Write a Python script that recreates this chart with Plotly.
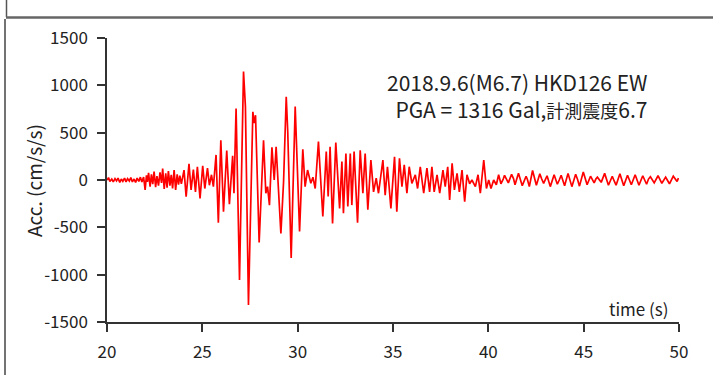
import plotly.graph_objects as go

# ---- data: turning points of the accelerogram (time in s, acceleration in cm/s/s) ----
time_s = [
    20.00, 20.08, 20.15, 20.25, 20.33, 20.42, 20.50, 20.58, 20.67, 20.75, 20.83, 20.92,
    21.00, 21.08, 21.17, 21.25, 21.33, 21.42, 21.50, 21.58, 21.67, 21.75, 21.83,
    21.92, 22.00, 22.07, 22.12, 22.18, 22.26, 22.33, 22.40, 22.47, 22.55, 22.62, 22.70,
    22.78, 22.86, 22.92, 23.00, 23.08, 23.15, 23.22, 23.30, 23.37, 23.44, 23.52, 23.60,
    23.68, 23.75, 23.82, 23.90, 23.97,
    24.04, 24.15, 24.30, 24.41, 24.53, 24.64, 24.74, 24.88, 25.02, 25.13, 25.27, 25.37,
    25.48, 25.58, 25.72, 25.84, 25.97, 26.11, 26.28, 26.42, 26.59, 26.66, 26.77, 26.95,
    27.16, 27.26, 27.42, 27.65, 27.72, 27.79, 27.98, 28.21, 28.33, 28.42, 28.52, 28.65,
    28.77, 28.87, 29.12, 29.26, 29.40, 29.48, 29.66, 29.87, 30.10, 30.27,
    30.39, 30.52, 30.69, 30.80, 30.92, 31.09, 31.32, 31.50, 31.60, 31.70, 31.83, 32.00,
    32.20, 32.32, 32.40, 32.53, 32.63, 32.76, 32.84, 32.96, 33.14, 33.28, 33.42, 33.54,
    33.68, 33.84, 33.98, 34.12, 34.24, 34.47, 34.59, 34.71, 34.89, 35.08, 35.20, 35.34,
    35.47, 35.59, 35.73, 35.85, 35.99, 36.17, 36.29, 36.43, 36.61, 36.78, 36.92, 37.04,
    37.16, 37.31, 37.45, 37.62, 37.74, 37.87, 37.97, 38.10, 38.22, 38.36, 38.48, 38.62,
    38.76, 38.88, 39.02, 39.14, 39.32, 39.46, 39.58, 39.76, 39.90, 40.02, 40.14, 40.28,
    40.42, 40.54,
    40.66, 40.78, 40.85, 41.05, 41.22, 41.32, 41.40, 41.58, 41.78, 41.98, 42.05, 42.15,
    42.32, 42.52, 42.70, 42.80, 42.90, 43.08, 43.25, 43.45, 43.62, 43.72, 43.82, 44.00,
    44.18, 44.38, 44.58, 44.68, 44.78, 44.98, 45.18, 45.36, 45.55, 45.64, 45.72, 45.92,
    46.10, 46.30, 46.50, 46.60, 46.70, 46.90, 47.10, 47.30, 47.40, 47.50, 47.70, 47.90,
    48.10, 48.30, 48.40, 48.50, 48.70, 48.90, 49.10, 49.30, 49.40, 49.50, 49.70, 49.90,
    49.97,
]
acc_gal = [
    0, 25, -15, 10, -20, 15, -10, 20, -25, 10, -15, 20,
    -20, 15, -10, 25, -20, 10, -25, 20, -15, 30, -20,
    30, -105, 50, -20, 75, -70, 60, -45, 90, -75, 40, -60,
    80, -30, 120, -95, 70, -80, 95, -60, 55, -90, 105, -105,
    60, -50, 45, -40, 30,
    105, -175, 170, -105, 110, -125, 140, -195, 150, -90, 125, -55,
    55, -70, 265, -450, 420, -335, 310, -255, 255, -140, 755, -1055,
    1145, 775, -1320, 720, 600, 685, -660, 420, -140, -70, -265, 345,
    0, 350, -565, -20, 880, 510, -825, 775, -545, 325,
    -70, 105, -35, 30, -90, 405, -385, 300, -175, 350, -460, 395,
    -300, 195, -350, 280, -280, 280, -265, 300, -450, 315, -140, 280,
    -315, 210, -125, 20, -140, 210, -160, 140, -300, 245, -335, 230,
    -70, 160, -140, 140, -35, 55, -90, 140, -140, 125, -125, 140,
    -125, 55, -140, 105, -70, 140, -210, 175, -105, 70, -125, 105,
    -230, 55, -40, 0, -70, 55, -140, 210, -90, 0, -90, 0,
    -50, 55,
    -40, 10, 50, -30, 60, 15, -50, 70, -60, 40, 5, -70,
    100, -55, 65, 10, -35, 45, -70, 55, -45, 0, 50, -60,
    70, -70, 60, 5, -65, 85, -50, 40, -30, 10, 30, -25,
    70, -55, 40, -10, -55, 65, -60, 50, 0, -50, 55, -55,
    45, -45, 10, 35, -30, 45, -35, 30, -5, -40, 40, -15,
    20,
]

y_tick_vals = [-1500, -1000, -500, 0, 500, 1000, 1500]
y_tick_labels = ["-1500", "-1000", "-500", "0", "500", "1000", "1500"]
x_tick_vals = [20, 25, 30, 35, 40, 45, 50]
x_tick_labels = ["20", "25", "30", "35", "40", "45", "50"]

title_line1 = "2018.9.6(M6.7) HKD126 EW"
title_line2 = "PGA = 1316 Gal,<span style='font-size:18px'>計測震度</span>6.7"
y_title = "Acc. (cm/s/s)"
x_title = "time (s)"

# ---- layout geometry (pixels) ----
W, H = 713, 375
L, R, T, B = 107, 34, 38, 53
PW, PH = W - L - R, H - T - B


def px(x):
    return (x - L) / PW


def py(y):
    return (H - B - y) / PH


FONT = "Noto Sans CJK JP, Noto Sans, sans-serif"
INK = "#222222"
AXIS = "#333333"

fig = go.Figure()
fig.add_trace(go.Scatter(
    x=time_s, y=acc_gal, mode="lines",
    line=dict(color="#ff0000", width=1.7),
    hoverinfo="skip", showlegend=False,
))

fig.update_layout(
    width=W, height=H,
    margin=dict(l=L, r=R, t=T, b=B, pad=0),
    paper_bgcolor="white", plot_bgcolor="white",
    font=dict(family=FONT, size=17, color=INK),
    showlegend=False,
    xaxis=dict(
        range=[20, 50], tickmode="array", tickvals=x_tick_vals, ticktext=x_tick_labels,
        showgrid=False, zeroline=False, showline=True, linecolor=AXIS, linewidth=1.5,
        ticks="outside", ticklen=8, tickwidth=1.5, tickcolor=AXIS,
        tickfont=dict(family=FONT, size=17, color=INK), ticklabelstandoff=6,
    ),
    yaxis=dict(
        range=[-1500, 1500], tickmode="array", tickvals=y_tick_vals, ticktext=y_tick_labels,
        showgrid=False, zeroline=False, showline=True, linecolor=AXIS, linewidth=1.5,
        ticks="outside", ticklen=8, tickwidth=1.5, tickcolor=AXIS,
        tickfont=dict(family=FONT, size=17, color=INK), ticklabelstandoff=6,
    ),
)

fig.add_annotation(x=px(649), y=py(96), xref="paper", yref="paper",
                   text=title_line1 + "<br>" + title_line2, align="right",
                   showarrow=False, xanchor="right", yanchor="middle",
                   font=dict(family=FONT, size=21, color=INK))
fig.add_annotation(x=px(33), y=py(181), xref="paper", yref="paper", text=y_title,
                   showarrow=False, textangle=-90, xanchor="center", yanchor="middle",
                   font=dict(family=FONT, size=19, color=INK))
fig.add_annotation(x=px(671), y=py(308), xref="paper", yref="paper", text=x_title,
                   showarrow=False, xanchor="right", yanchor="middle",
                   font=dict(family=FONT, size=17, color=INK))

# screenshot frame lines
frame = [
    (6.5, 0, 6.5, 17, "#555555", 1.5),
    (6, 17.5, 713, 17.5, "#666666", 2.5),
    (5, 19, 5, 375, "#444444", 1.5),
]
for x0, y0, x1, y1, c, w in frame:
    fig.add_shape(type="line", xref="paper", yref="paper",
                  x0=px(x0), y0=py(y0), x1=px(x1), y1=py(y1),
                  line=dict(color=c, width=w))

fig.write_html(
    "out.html",
    config={"displayModeBar": False},
    post_script="document.body.style.margin='0';document.body.style.overflow='hidden';",
)
